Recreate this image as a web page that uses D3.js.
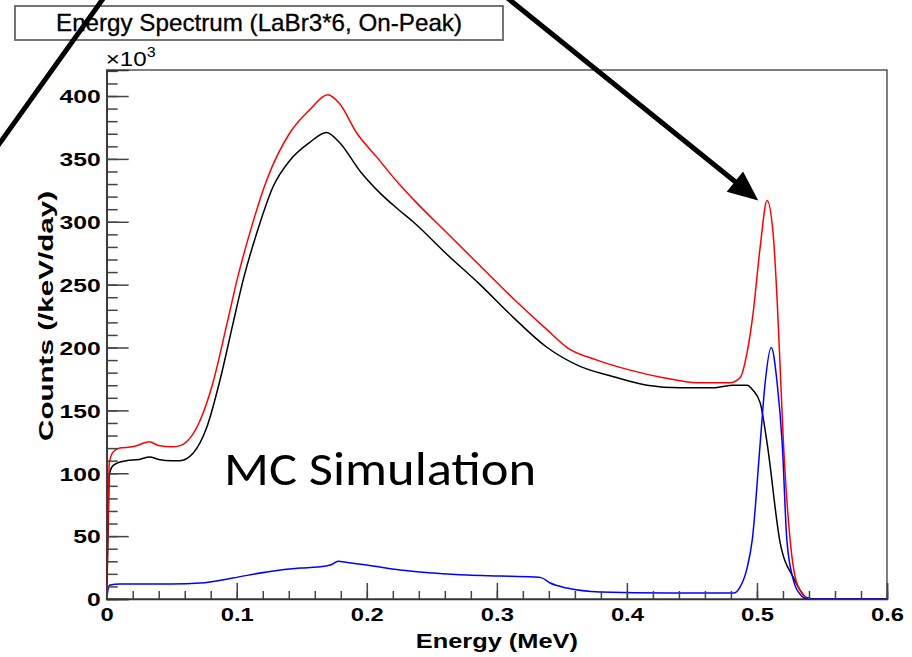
<!DOCTYPE html>
<html><head><meta charset="utf-8">
<script src="https://cdn.jsdelivr.net/npm/d3@7"></script>
<style>body{margin:0;background:#fff}svg{display:block}</style>
</head><body>
<svg id="chart" width="912" height="657"></svg>
<script>
// ---------- data ----------
const titleText = "Energy Spectrum (LaBr3*6, On-Peak)";
const xTitle = "Energy (MeV)";
const yTitle = "Counts (/keV/day)";
const annotationText = "MC Simulation";
const xTicks = [0, 0.1, 0.2, 0.3, 0.4, 0.5, 0.6];
const xTickLabels = ["0", "0.1", "0.2", "0.3", "0.4", "0.5", "0.6"];
const yTicks = [0, 50, 100, 150, 200, 250, 300, 350, 400];
const yTickLabels = ["0", "50", "100", "150", "200", "250", "300", "350", "400"];
const yExponent = "3";

// black curve (energy in MeV, counts in units of 10^3 /keV/day)
const blackE = [0, 0.001, 0.002, 0.004, 0.008, 0.015, 0.025, 0.033, 0.04, 0.05, 0.056, 0.0664, 0.0771, 0.0871, 0.0971, 0.105, 0.116, 0.128, 0.141, 0.156, 0.169, 0.179, 0.195, 0.210, 0.224, 0.2356, 0.2617, 0.2871, 0.3126, 0.3387, 0.364, 0.389, 0.4155, 0.441, 0.466, 0.482, 0.4924, 0.497, 0.5025, 0.5078, 0.5178, 0.528, 0.5386, 0.545, 0.6];
const blackV = [0, 50, 98, 105, 108, 110, 111, 113, 111, 110, 110, 116, 137, 174, 219, 254, 293, 328, 349, 363, 371, 363, 340, 323, 310, 300, 274, 250, 224, 200, 185, 177, 170, 168, 168, 170, 170, 166, 156, 124, 45, 17, 1, 0, 0];

// red curve
const redE = [0, 0.001, 0.002, 0.005, 0.01, 0.02, 0.033, 0.04, 0.05, 0.0564, 0.0718, 0.0817, 0.0925, 0.101, 0.110, 0.123, 0.141, 0.156, 0.170, 0.179, 0.192, 0.208, 0.224, 0.2356, 0.2617, 0.2871, 0.3126, 0.3387, 0.354, 0.377, 0.4025, 0.428, 0.4541, 0.479, 0.487, 0.4924, 0.497, 0.5025, 0.5078, 0.5124, 0.5155, 0.5178, 0.520, 0.5255, 0.530, 0.536, 0.54, 0.6];
const redV = [0, 60, 108, 117, 120, 121, 125, 122, 121, 122, 142, 172, 219, 257, 291, 333, 371, 389, 401, 394, 371, 351, 331, 318, 291, 265, 239, 214, 200, 190, 182, 176, 172, 172, 176, 196, 227, 280, 317, 291, 238, 185, 132, 47, 15, 3, 0, 0];

// blue curve
const blueE = [0, 0.002, 0.01, 0.03, 0.05, 0.072, 0.097, 0.123, 0.149, 0.162, 0.172, 0.178, 0.185, 0.200, 0.2256, 0.251, 0.277, 0.3026, 0.328, 0.334, 0.341, 0.354, 0.3795, 0.431, 0.482, 0.487, 0.4925, 0.4964, 0.5025, 0.5063, 0.511, 0.5155, 0.5194, 0.523, 0.528, 0.533, 0.539, 0.6];
const blueV = [0, 11, 12, 12, 12, 12.7, 16.7, 21.5, 24.6, 25.4, 27, 30, 29, 27, 23, 20.7, 19, 18.3, 17.5, 17, 12.7, 8.7, 5.6, 4.8, 4.8, 9.5, 25, 47, 124, 172, 200, 172, 124, 47, 15, 4, 0, 0];

const series = [
  {E: blackE, V: blackV, color: "#000000"},
  {E: redE, V: redV, color: "#ff0000"},
  {E: blueE, V: blueV, color: "#0000ff"}
];

// ---------- layout ----------
const svg = d3.select("#chart");
const X0 = 106.7, X1 = 887, Y0 = 599, Y1 = 70;
const x = d3.scaleLinear().domain([0, 0.6]).range([X0, X1]);
const y = d3.scaleLinear().domain([0, 420.7]).range([Y0, Y1]);
const rootFont = "'Liberation Sans', Arial, Helvetica, sans-serif";

// frame
svg.append("rect").attr("x", X0).attr("y", Y1).attr("width", X1 - X0).attr("height", Y0 - Y1)
  .attr("fill", "none").attr("stroke", "#555").attr("stroke-width", 1.5);

// curves
const line = d3.line().x(d => x(d[0])).y(d => y(d[1])).curve(d3.curveMonotoneX);
const curveG = svg.append("g");
series.forEach(s => {
  const pts = s.E.map((e, i) => [e, s.V[i]]);
  curveG.append("path").attr("d", line(pts)).attr("fill", "none")
    .attr("stroke", s.color).attr("stroke-width", 1.5).attr("stroke-linejoin", "round");
});

// y axis: minor ticks
svg.append("g").attr("transform", `translate(${X0},0)`)
  .call(d3.axisLeft(y).tickValues(d3.range(0, 421, 10)).tickSize(-11).tickFormat(""))
  .call(g => g.select(".domain").remove())
  .selectAll("line").attr("stroke", "#444").attr("stroke-width", 1.5);
// y axis: major ticks + labels
const yAx = svg.append("g").attr("transform", `translate(${X0},0)`)
  .call(d3.axisLeft(y).tickValues(yTicks).tickSize(-22).tickPadding(0)
    .tickFormat((d, i) => yTickLabels[i]));
yAx.select(".domain").attr("stroke", "#333").attr("stroke-width", 1.5);
yAx.selectAll("line").attr("stroke", "#444").attr("stroke-width", 1.5);
yAx.selectAll("text").attr("x", 0).attr("dy", "0.36em")
  .attr("transform", "translate(-6,0) scale(1.3,1)")
  .style("font-family", rootFont).style("font-weight", "bold").style("font-size", "19px").attr("fill", "#000");

// x axis: minor ticks
svg.append("g").attr("transform", `translate(0,${Y0})`)
  .call(d3.axisBottom(x).tickValues(d3.range(0, 0.601, 0.02)).tickSize(-8).tickFormat(""))
  .call(g => g.select(".domain").remove())
  .selectAll("line").attr("stroke", "#444").attr("stroke-width", 1.5);
const xAx = svg.append("g").attr("transform", `translate(0,${Y0})`)
  .call(d3.axisBottom(x).tickValues(xTicks).tickSize(-16).tickPadding(9)
    .tickFormat((d, i) => xTickLabels[i]));
xAx.select(".domain").attr("stroke", "#333").attr("stroke-width", 1.5);
xAx.selectAll("line").attr("stroke", "#444").attr("stroke-width", 1.5);
xAx.selectAll("text").attr("transform", "scale(1.25,1)")
  .style("font-family", rootFont).style("font-weight", "bold").style("font-size", "19px").attr("fill", "#000");

// exponent label x10^3
const expT = svg.append("text").attr("transform", `translate(${X0 - 1},66) scale(1.15,1)`)
  .style("font-family", rootFont).style("font-size", "21px").attr("fill", "#000");
expT.append("tspan").text("\u00d710");
expT.append("tspan").attr("dy", -9).style("font-size", "14px").text(yExponent);

// axis titles
svg.append("text").attr("transform", "translate(53,316) rotate(-90)")
  .attr("text-anchor", "middle").attr("textLength", 250).attr("lengthAdjust", "spacingAndGlyphs")
  .style("font-family", rootFont).style("font-weight", "bold").style("font-size", "20px")
  .text(yTitle);
svg.append("text").attr("x", (X0 + X1) / 2).attr("y", 648)
  .attr("text-anchor", "middle").attr("textLength", 162).attr("lengthAdjust", "spacingAndGlyphs")
  .style("font-family", rootFont).style("font-weight", "bold").style("font-size", "20px")
  .text(xTitle);

// title box
svg.append("rect").attr("x", 15).attr("y", 6).attr("width", 488).attr("height", 34)
  .attr("fill", "#fff").attr("stroke", "#666").attr("stroke-width", 1.8);
svg.append("text").attr("x", 259).attr("y", 31).attr("text-anchor", "middle")
  .attr("textLength", 406).attr("lengthAdjust", "spacingAndGlyphs")
  .style("font-family", rootFont).style("font-size", "24px").attr("fill", "#000")
  .style("stroke", "#000").style("stroke-width", 0.3)
  .text(titleText);

// MC Simulation annotation
svg.append("text").attr("x", 224).attr("y", 485)
  .attr("textLength", 312).attr("lengthAdjust", "spacingAndGlyphs")
  .style("font-family", "Carlito, Calibri, Lato, 'Open Sans', sans-serif").style("font-size", "48px").attr("fill", "#000")
  .text(annotationText);

// arrows (annotation overlay)
svg.append("line").attr("x1", -8).attr("y1", 154).attr("x2", 110).attr("y2", -11)
  .attr("stroke", "#000").attr("stroke-width", 5);
const tip = [x(0.501), y(317)];
const start = [500, -8];
const dx = tip[0] - start[0], dy = tip[1] - start[1];
const len = Math.hypot(dx, dy), ux = dx / len, uy = dy / len;
const headL = 30, headW = 13;
const base = [tip[0] - ux * headL, tip[1] - uy * headL];
svg.append("line").attr("x1", start[0]).attr("y1", start[1])
  .attr("x2", base[0] + ux * 4).attr("y2", base[1] + uy * 4)
  .attr("stroke", "#000").attr("stroke-width", 5);
svg.append("path")
  .attr("d", `M${tip[0]},${tip[1]}L${base[0] - uy * headW},${base[1] + ux * headW}L${base[0] + uy * headW},${base[1] - ux * headW}Z`)
  .attr("fill", "#000");
</script>
</body></html>
